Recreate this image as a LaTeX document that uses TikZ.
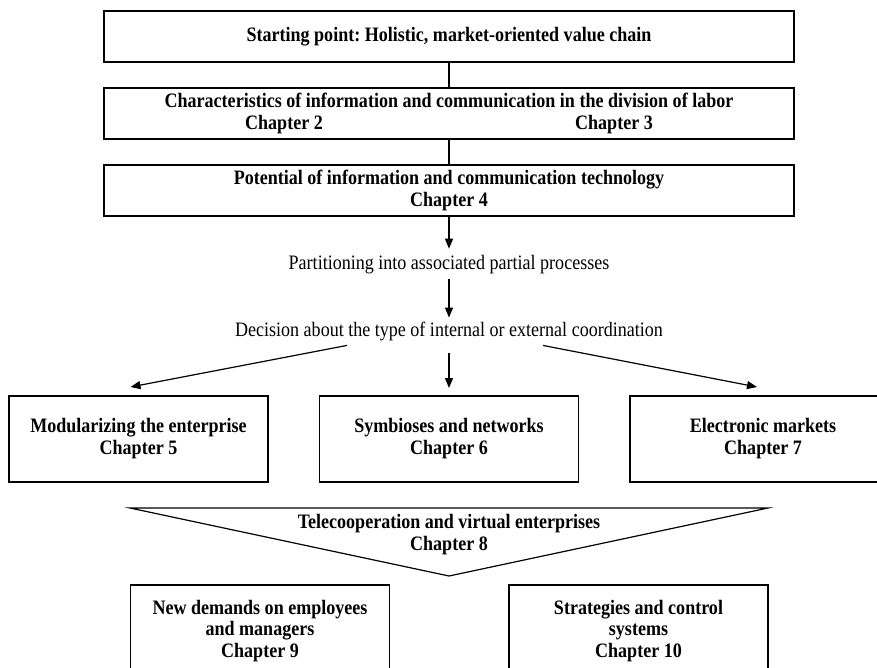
\documentclass[tikz,border=0pt]{standalone}
\usepackage{fontspec}
\setmainfont{Liberation Serif}[FakeStretch=0.88]
\usetikzlibrary{arrows.meta,calc}
\frenchspacing

\begin{document}
\begin{tikzpicture}[x=1pt,y=-1pt,
    every node/.style={inner sep=0pt,outer sep=0pt},
    txt/.style={font=\fontsize{20.5}{22}\selectfont,align=center},
    bx/.style={txt,draw,line width=1.2pt,font=\fontsize{20.5}{22}\selectfont\bfseries},
    wide/.style={bx,minimum width=690,minimum height=51},
    mid/.style={bx,minimum width=259,minimum height=86},
    link/.style={line width=1.2pt},
    arr/.style={line width=1.2pt,-{Triangle[length=10pt,width=8pt]}}]
  \useasboundingbox (0,0) rectangle (877,668);
  \clip (0,0) rectangle (877,668);

  % top chain
  \node[wide] (start) at (449,36.5) {Starting point: Holistic, market-oriented value chain};
  \node[wide] (charact) at (449,113.5)
    {Characteristics of information and communication in the division of labor\\
     \makebox[330pt]{Chapter 2}\makebox[330pt]{Chapter 3}};
  \node[wide] (potential) at (449,190.5)
    {Potential of information and communication technology\\Chapter 4};
  \draw[link] (start) -- (charact);
  \draw[link] (charact) -- (potential);

  % process steps
  \node[txt] (partition) at (449,265) {Partitioning into associated partial processes};
  \node[txt] (decision) at (449,331) {Decision about the type of internal or external coordination};
  \draw[arr] (potential.south) -- ($(partition.north)+(0,-7)$);
  \draw[arr] ($(partition.south)+(0,5)$) -- ($(decision.north)+(0,-4)$);

  % coordination forms
  \node[mid] (modular) at (138.5,439) {Modularizing the enterprise\\Chapter 5};
  \node[mid] (symbio) at (449,439) {Symbioses and networks\\Chapter 6};
  \node[bx,minimum width=266,minimum height=86] (emarket) at (763,439) {Electronic markets\\Chapter 7};
  \draw[arr] ($(decision.south)+(-102,5)$) -- ($(modular.north)+(-8,-9)$);
  \draw[arr] ($(decision.south)+(0,13)$) -- ($(symbio.north)+(0,-8)$);
  \draw[arr] ($(decision.south)+(94,5)$) -- ($(emarket.north)+(-6,-9)$);

  % funnel
  \coordinate (fl) at (130,508);
  \coordinate (fr) at (768,508);
  \coordinate (fb) at (449,576);
  \draw[link,line join=miter] (fl) -- (fr) -- (fb) -- cycle;
  \node[txt,font=\fontsize{20.5}{22}\selectfont\bfseries] (telecoop) at (449,535)
    {Telecooperation and virtual enterprises\\Chapter 8};

  % consequences
  \node[mid,minimum height=120,anchor=north] (demands) at (260,585) {};
  \node[txt,font=\fontsize{20.5}{21.5}\selectfont\bfseries,anchor=north] at (260,600)
    {New demands on employees\\and managers\\Chapter 9};
  \node[mid,minimum height=120,anchor=north] (strategies) at (638.5,585) {};
  \node[txt,font=\fontsize{20.5}{21.5}\selectfont\bfseries,anchor=north] at (638.5,600)
    {Strategies and control\\systems\\Chapter 10};
\end{tikzpicture}
\end{document}
